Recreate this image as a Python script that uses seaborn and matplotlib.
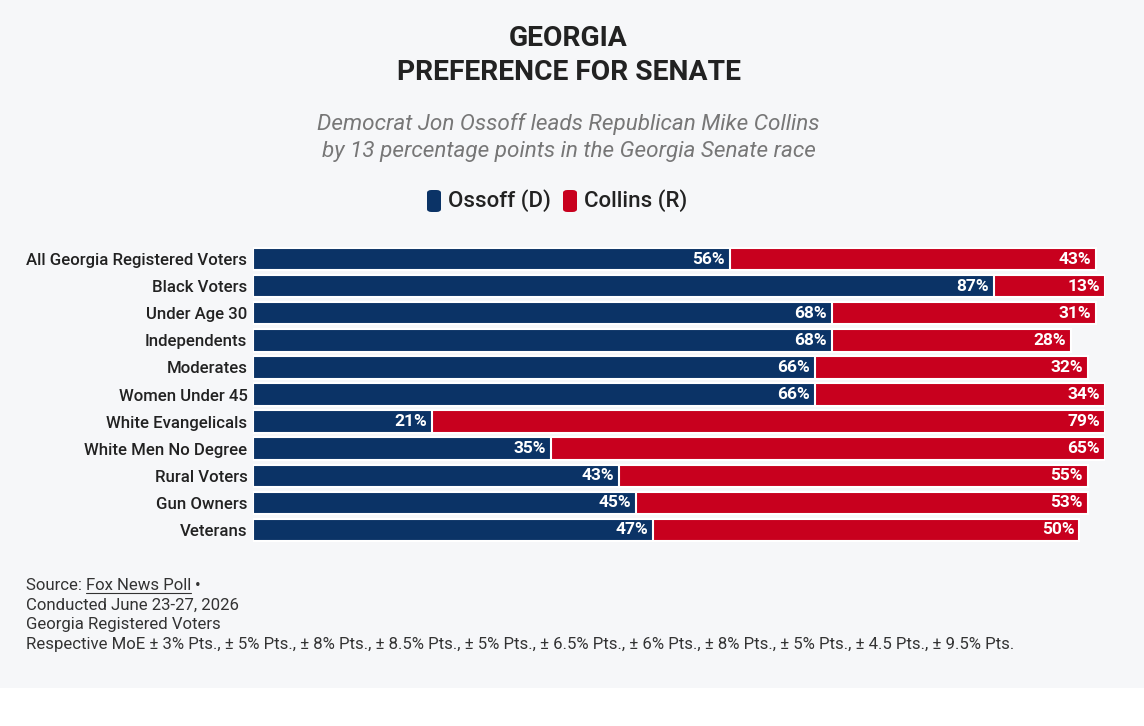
import pandas as pd
import matplotlib.pyplot as plt
import seaborn as sns
from matplotlib.patches import FancyBboxPatch, Rectangle

groups = ['All Georgia Registered Voters', 'Black Voters', 'Under Age 30', 'Independents',
          'Moderates', 'Women Under 45', 'White Evangelicals', 'White Men No Degree',
          'Rural Voters', 'Gun Owners', 'Veterans']
ossoff = [56, 87, 68, 68, 66, 66, 21, 35, 43, 45, 47]
collins = [43, 13, 31, 28, 32, 34, 79, 65, 55, 53, 50]

BLUE = '#0b3366'
RED = '#c8001e'
BG = '#f6f7f9'

df = pd.DataFrame({'group': groups, 'ossoff': ossoff, 'collins': collins})
df['total'] = df['ossoff'] + df['collins']

sns.set_theme(style='white')
plt.rcParams['font.family'] = ['Roboto', 'DejaVu Sans']

fig = plt.figure(figsize=(11.44, 7.26), dpi=100, facecolor=BG)
# white strip at the bottom
fig.patches.append(Rectangle((0, 0), 1, 38 / 726, transform=fig.transFigure,
                             facecolor='white', edgecolor='none', zorder=-1))
ax = fig.add_axes([253 / 1144, 1 - 543.5 / 726, 852 / 1144, 298 / 726])
ax.set_facecolor(BG)

# red bar = full length, blue drawn on top
sns.barplot(data=df, x='total', y='group', orient='h', color=RED, saturation=1,
            width=0.83, edgecolor='white', linewidth=1.5, ax=ax)
sns.barplot(data=df, x='ossoff', y='group', orient='h', color=BLUE, saturation=1,
            width=0.83, edgecolor='white', linewidth=1.5, ax=ax)

for i, row in df.iterrows():
    ax.text(row['ossoff'] - 0.6, i, f"{row['ossoff']}%", ha='right', va='center',
            color='white', fontsize=12.5, fontweight='bold')
    ax.text(row['total'] - 0.6, i, f"{row['collins']}%", ha='right', va='center',
            color='white', fontsize=12.5, fontweight='bold')

ax.set_xlim(0, 100)
ax.set_ylim(10.5, -0.5)
ax.set_xlabel('')
ax.set_ylabel('')
ax.set_xticks([])
ax.tick_params(axis='y', length=0, pad=4, labelsize=12.1, labelcolor='#222222')
for lab in ax.get_yticklabels():
    lab.set_fontweight(500)
sns.despine(ax=ax, left=True, bottom=True)

# titles
fig.text(0.497, 1 - 39 / 726, 'GEORGIA', ha='center', va='center', fontsize=20.3,
         fontweight='bold', color='#222222')
fig.text(0.497, 1 - 72 / 726, 'PREFERENCE FOR SENATE', ha='center', va='center',
         fontsize=20.3, fontweight='bold', color='#222222')
fig.text(0.497, 1 - 124 / 726, 'Democrat Jon Ossoff leads Republican Mike Collins',
         ha='center', va='center', fontsize=16.2, style='italic', color='#777777')
fig.text(0.497, 1 - 151 / 726, 'by 13 percentage points in the Georgia Senate race',
         ha='center', va='center', fontsize=16.2, style='italic', color='#777777')

# legend
for x0, col, lab in [(427, BLUE, 'Ossoff (D)'), (563, RED, 'Collins (R)')]:
    fig.patches.append(FancyBboxPatch((x0 / 1144, 1 - 212 / 726), 14 / 1144, 22 / 726,
                                      boxstyle='round,pad=0,rounding_size=0.004',
                                      transform=fig.transFigure, facecolor=col,
                                      edgecolor='none'))
    fig.text((x0 + 21) / 1144, 1 - 201 / 726, lab, ha='left', va='center',
             fontsize=16, fontweight=500, color='#222222')

# footer
foot_col = '#333333'
fs = 12.1
renderer = fig.canvas.get_renderer()
t1 = fig.text(26 / 1144, 1 - 585 / 726, 'Source: ', ha='left', va='center',
              fontsize=fs, color=foot_col)
x1 = t1.get_window_extent(renderer).x1 / fig.bbox.width
t2 = fig.text(x1, 1 - 585 / 726, 'Fox News Poll', ha='left', va='center',
              fontsize=fs, color=foot_col)
bb = t2.get_window_extent(renderer)
x2 = bb.x1 / fig.bbox.width
fig.add_artist(plt.Line2D([x1, x2], [1 - 593 / 726, 1 - 593 / 726],
                          color=foot_col, lw=0.8))
fig.text(x2 + 4 / 1144, 1 - 585 / 726, '•', ha='left', va='center', fontsize=fs, color=foot_col)
fig.text(26 / 1144, 1 - 605 / 726, 'Conducted June 23-27, 2026', ha='left', va='center',
         fontsize=fs, color=foot_col)
fig.text(26 / 1144, 1 - 625 / 726, 'Georgia Registered Voters', ha='left', va='center',
         fontsize=fs, color=foot_col)
fig.text(26 / 1144, 1 - 645 / 726,
         'Respective MoE ± 3% Pts., ± 5% Pts., ± 8% Pts., ± 8.5% Pts., ± 5% Pts., ± 6.5% Pts., '
         '± 6% Pts., ± 8% Pts., ± 5% Pts., ± 4.5 Pts., ± 9.5% Pts.',
         ha='left', va='center', fontsize=fs, color=foot_col)

fig.savefig('out.png', dpi=100, facecolor=fig.get_facecolor())
